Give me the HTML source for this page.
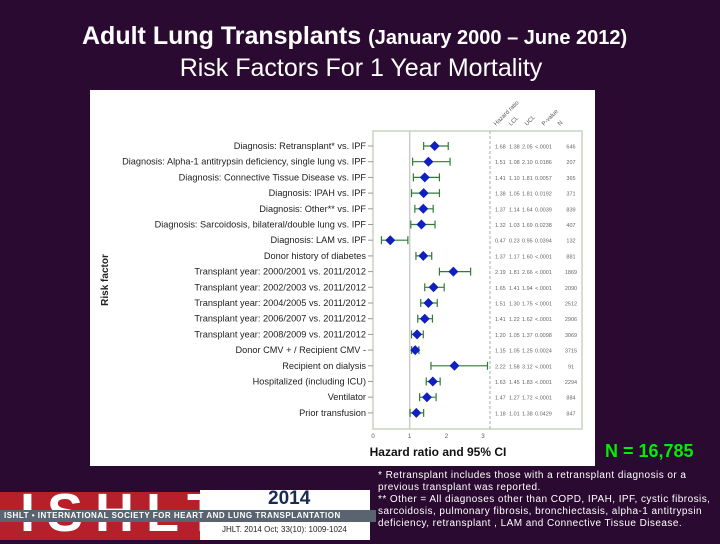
<!DOCTYPE html>
<html><head><meta charset="utf-8"><style>
body{margin:0;width:720px;height:540px;background:#2b0a31;overflow:hidden;font-family:"Liberation Sans",sans-serif;position:relative}
.abs{position:absolute}
</style></head><body>
<div class="abs" style="left:82px;top:22px;color:#fff;font-size:25px;font-weight:bold;white-space:nowrap">Adult Lung Transplants <span style="font-size:20px">(January 2000 – June 2012)</span></div>
<div class="abs" style="left:0;width:720px;top:54px;text-align:center;color:#fff;font-size:25px;padding-left:1px">Risk Factors For 1 Year Mortality</div>
<svg class="abs" style="left:0;top:0" width="720" height="540">
<rect x="90" y="90" width="505" height="376" fill="#fff"/>
<rect x="373" y="131" width="209" height="298" fill="none" stroke="#c8d4c0" stroke-width="1.5"/>
<line x1="490" y1="131" x2="490" y2="429" stroke="#aaa" stroke-dasharray="3,2"/>
<text x="108" y="280" transform="rotate(-90 108 280)" text-anchor="middle" font-size="10" font-weight="bold" fill="#222">Risk factor</text>
<text x="438" y="456" text-anchor="middle" font-size="12" font-weight="bold" fill="#111">Hazard ratio and 95% CI</text>
<g id="g"></g>
</svg>
<div class="abs" style="left:605px;top:441px;color:#00ee00;font-size:18px;font-weight:bold">N = 16,785</div>
<div class="abs" style="left:0;top:492px;width:200px;height:48px;background:#b5202a"></div>
<div class="abs" style="left:20px;top:482px;width:180px;color:#fff;font-size:54px;font-weight:bold;letter-spacing:12px">ISHLT</div>
<div class="abs" style="left:200px;top:490px;width:170px;height:50px;background:#fff"></div>
<div class="abs" style="left:0;top:510px;width:372px;height:12px;background:#5a6470;color:#fff;font-size:8px;font-weight:bold;line-height:12px;white-space:nowrap;padding-left:4px;letter-spacing:.5px">ISHLT • INTERNATIONAL SOCIETY FOR HEART AND LUNG TRANSPLANTATION</div>
<div class="abs" style="left:268px;top:488px;color:#1a2a55;font-size:19px;font-weight:bold">2014</div>
<div class="abs" style="left:222px;top:525px;color:#222;font-size:8px">JHLT. 2014 Oct; 33(10): 1009-1024</div>
<div class="abs" style="left:378px;top:470px;color:#fff;font-size:10px;letter-spacing:0.45px;line-height:12px;white-space:nowrap">* Retransplant includes those with a retransplant diagnosis or a<br>previous transplant was reported.<br>** Other = All diagnoses other than COPD, IPAH, IPF, cystic fibrosis,<br>sarcoidosis, pulmonary fibrosis, bronchiectasis, alpha-1 antitrypsin<br>deficiency, retransplant , LAM and Connective Tissue Disease.</div>
<script>
const labels=["Diagnosis: Retransplant* vs. IPF","Diagnosis: Alpha-1 antitrypsin deficiency, single lung vs. IPF","Diagnosis: Connective Tissue Disease vs. IPF","Diagnosis: IPAH vs. IPF","Diagnosis: Other** vs. IPF","Diagnosis: Sarcoidosis, bilateral/double lung vs. IPF","Diagnosis: LAM vs. IPF","Donor history of diabetes","Transplant year: 2000/2001 vs. 2011/2012","Transplant year: 2002/2003 vs. 2011/2012","Transplant year: 2004/2005 vs. 2011/2012","Transplant year: 2006/2007 vs. 2011/2012","Transplant year: 2008/2009 vs. 2011/2012","Donor CMV + / Recipient CMV -","Recipient on dialysis","Hospitalized (including ICU)","Ventilator","Prior transfusion"];
const hr=[1.68,1.51,1.41,1.38,1.37,1.32,0.47,1.37,2.19,1.65,1.51,1.41,1.20,1.15,2.22,1.63,1.47,1.18];
const lcl=[1.38,1.08,1.10,1.05,1.14,1.03,0.23,1.17,1.81,1.41,1.30,1.22,1.05,1.05,1.58,1.45,1.27,1.01];
const ucl=[2.05,2.10,1.81,1.81,1.64,1.69,0.95,1.60,2.66,1.94,1.75,1.62,1.37,1.25,3.12,1.83,1.72,1.38];
const pval=["<.0001","0.0186","0.0057","0.0192","0.0039","0.0238","0.0394","<.0001","<.0001","<.0001","<.0001","<.0001","0.0098","0.0024","<.0001","<.0001","<.0001","0.0429"];
const nval=["646","207","365","371","839","407","132","881","1869","2090","2512","2906","3069","3715","91","2294","884","847"];
const ticks=[0,1,2,3];
const heads=["Hazard ratio","LCL","UCL","P-value","N"];
const X=v=>373+v*36.7, Y=i=>146+i*15.7;
const g=document.getElementById('g'),NS="http://www.w3.org/2000/svg";
function mk(t,a,txt){const e=document.createElementNS(NS,t);for(const k in a)e.setAttribute(k,a[k]);if(txt!=null)e.textContent=txt;g.appendChild(e);return e;}
let e=mk('line',{x1:X(1),y1:131,x2:X(1),y2:429,stroke:'#ccc','stroke-width':1.5});


ticks.forEach(t=>{const el=mk('text',{x:X(t),y:438,'font-size':6,'text-anchor':'middle',fill:'#555'},t);

});
const hx=[502,517,533,550,566];
heads.forEach((h,j)=>{const el=mk('text',{x:hx[j]-6,y:126,'font-size':6,fill:'#555',transform:`rotate(-45 ${hx[j]-6} 126)`},h);

});
labels.forEach((l,i)=>{const y=Y(i);
let t=mk('text',{x:366,y:y+3,'font-size':9.2,'text-anchor':'end',fill:'#222'},l);


mk('line',{x1:368,y1:y,x2:373,y2:y,stroke:'#999'});
let ci=mk('g',{});


[[X(lcl[i]),y,X(ucl[i]),y],[X(lcl[i]),y-4,X(lcl[i]),y+4],[X(ucl[i]),y-4,X(ucl[i]),y+4]].forEach(c=>{const ln=document.createElementNS(NS,'line');ln.setAttribute('x1',c[0]);ln.setAttribute('y1',c[1]);ln.setAttribute('x2',c[2]);ln.setAttribute('y2',c[3]);ln.setAttribute('stroke','#2e7d32');ln.setAttribute('stroke-width',1.2);ci.appendChild(ln);});
const cx=X(hr[i]);
let d=mk('polygon',{points:`${cx},${y-5} ${cx+5},${y} ${cx},${y+5} ${cx-5},${y}`,fill:'#1020c0'});


const vals=[hr[i].toFixed(2),lcl[i].toFixed(2),ucl[i].toFixed(2),pval[i],nval[i]];
const vx=[495,509,522,535,571];
vals.forEach((v,j)=>{const tt=mk('text',{x:vx[j],y:y+2.5,'font-size':5.5,fill:'#666','text-anchor':j==4?'middle':'start'},v);

});
});
</script>
</body></html>
